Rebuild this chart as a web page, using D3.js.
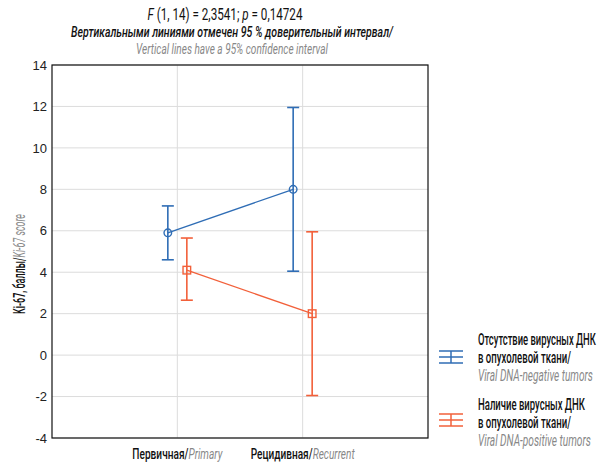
<!DOCTYPE html>
<html>
<head>
<meta charset="utf-8">
<script src="https://cdn.jsdelivr.net/npm/d3@7"></script>
<style>
  body { margin: 0; background: #fff; }
  svg { display: block; }
  .cond { font-family: Roboto, "Noto Sans", sans-serif; }
</style>
</head>
<body>
<script>
var width = 597;
var height = 462;
var margin = { left: 52, top: 65, right: 169, bottom: 24 };

var categories = ['Первичная', 'Рецидивная'];
var categoriesEn = ['Primary', 'Recurrent'];
var yTicks = [-4, -2, 0, 2, 4, 6, 8, 10, 12, 14];

// mean, lower and upper 95% CI per category
var negMean = [5.9, 8.0];
var negLow = [4.6, 4.05];
var negHigh = [7.2, 11.95];
var posMean = [4.1, 2.0];
var posLow = [2.65, -1.95];
var posHigh = [5.65, 5.95];

var blue = '#2f6db5';
var red = '#f2603a';

var svg = d3.select('body').append('svg')
  .attr('width', width)
  .attr('height', height);

// squeeze a text horizontally so it has the given width (condensed look)
function fit(sel, w, ax) {
  var n = sel.node().getComputedTextLength();
  var k = w / n;
  sel.attr('transform', 'translate(' + ax + ',0) scale(' + k + ',1) translate(' + (-ax) + ',0)');
}

var x = d3.scaleLinear().domain([0, 3]).range([margin.left, width - margin.right]);
var y = d3.scaleLinear().domain([-4, 14]).range([height - margin.bottom, margin.top]);

// grid
svg.selectAll('.hgrid').data(yTicks).enter().append('line')
  .attr('x1', x(0)).attr('x2', x(3))
  .attr('y1', function(d) { return y(d); }).attr('y2', function(d) { return y(d); })
  .attr('stroke', '#dcdcdc').attr('stroke-width', 1);
svg.selectAll('.vgrid').data(categories).enter().append('line')
  .attr('x1', function(d, i) { return x(i + 1); }).attr('x2', function(d, i) { return x(i + 1); })
  .attr('y1', y(14)).attr('y2', y(-4))
  .attr('stroke', '#dcdcdc').attr('stroke-width', 1);

// frame
svg.append('rect')
  .attr('x', x(0)).attr('y', y(14))
  .attr('width', x(3) - x(0)).attr('height', y(-4) - y(14))
  .attr('fill', 'none').attr('stroke', '#111').attr('stroke-width', 1.2);

// y axis labels
var yAxis = d3.axisLeft(y).tickValues(yTicks).tickSize(0).tickPadding(5)
  .tickFormat(function(d) { return String(d); });
var ga = svg.append('g').attr('transform', 'translate(' + x(0) + ',0)').call(yAxis);
ga.select('.domain').remove();
ga.selectAll('text')
  .attr('font-family', '"Liberation Sans", Arial, sans-serif')
  .attr('font-size', 13).attr('fill', '#222');

// x axis labels
var xWidths = [90, 104];
svg.selectAll('.xl').data(categories).enter().append('text')
  .attr('class', 'cond')
  .attr('x', function(d, i) { return x(i + 1); })
  .attr('y', 459)
  .attr('text-anchor', 'middle')
  .attr('font-size', 15.5)
  .each(function(d, i) {
    var t = d3.select(this);
    t.append('tspan').attr('fill', '#111').attr('font-weight', 500).text(d + '/');
    t.append('tspan').attr('fill', '#888').attr('font-style', 'italic').text(categoriesEn[i]);
    fit(t, xWidths[i], x(i + 1));
  });

// y title
var ytg = svg.append('g')
  .attr('transform', 'translate(25,264) rotate(-90)');
var yt = ytg.append('text').attr('class', 'cond')
  .attr('text-anchor', 'middle').attr('font-size', 16);
yt.append('tspan').attr('fill', '#111').attr('font-weight', 500).text('Ki-67, баллы/');
yt.append('tspan').attr('fill', '#888').attr('font-style', 'italic').text('Ki-67 score');
fit(yt, 100, 0);

// title
var t1 = svg.append('text').attr('class', 'cond').attr('x', 225).attr('y', 20)
  .attr('text-anchor', 'middle').attr('font-size', 16).attr('fill', '#111');
t1.append('tspan').attr('font-style', 'italic').text('F');
t1.append('tspan').text(' (1, 14) = 2,3541; ');
t1.append('tspan').attr('font-style', 'italic').text('p');
t1.append('tspan').text(' = 0,14724');
fit(t1, 155, 225);
var t2 = svg.append('text').attr('class', 'cond').attr('x', 232).attr('y', 37)
  .attr('text-anchor', 'middle').attr('font-size', 15.5).attr('font-style', 'italic')
  .attr('font-weight', 500).attr('fill', '#111')
  .text('Вертикальными линиями отмечен 95 % доверительный интервал/');
fit(t2, 322, 232);
var t3 = svg.append('text').attr('class', 'cond').attr('x', 232).attr('y', 54)
  .attr('text-anchor', 'middle').attr('font-size', 15.5).attr('font-style', 'italic')
  .attr('fill', '#888')
  .text('Vertical lines have a 95% confidence interval');
fit(t3, 192, 232);

// series
var series = [
  { mean: negMean, low: negLow, high: negHigh, color: blue, off: -9.5, shape: 'circle' },
  { mean: posMean, low: posLow, high: posHigh, color: red, off: 9.5, shape: 'square' }
];

series.forEach(function(s) {
  var g = svg.append('g');
  var px = function(i) { return x(i + 1) + s.off; };
  var line = d3.line().x(function(d, i) { return px(i); }).y(function(d) { return y(d); });
  g.append('path').datum(s.mean).attr('d', line)
    .attr('fill', 'none').attr('stroke', s.color).attr('stroke-width', 1.3);
  s.mean.forEach(function(m, i) {
    g.append('line').attr('x1', px(i)).attr('x2', px(i))
      .attr('y1', y(s.low[i])).attr('y2', y(s.high[i]))
      .attr('stroke', s.color).attr('stroke-width', 1.6);
    [s.low[i], s.high[i]].forEach(function(v) {
      g.append('line').attr('x1', px(i) - 6).attr('x2', px(i) + 6)
        .attr('y1', y(v)).attr('y2', y(v))
        .attr('stroke', s.color).attr('stroke-width', 1.6);
    });
    if (s.shape === 'circle') {
      g.append('circle').attr('cx', px(i)).attr('cy', y(m)).attr('r', 3.8)
        .attr('fill', 'none').attr('stroke', s.color).attr('stroke-width', 1.4);
    } else {
      g.append('rect').attr('x', px(i) - 3.8).attr('y', y(m) - 3.8)
        .attr('width', 7.6).attr('height', 7.6)
        .attr('fill', 'none').attr('stroke', s.color).attr('stroke-width', 1.4);
    }
  });
});

// legend
var legend = [
  { color: blue, y: 345, gy: 357, ru1: 'Отсутствие вирусных ДНК', ru2: 'в опухолевой ткани/', en: 'Viral DNA-negative tumors', w: [118, 93, 115] },
  { color: red, y: 410, gy: 420, ru1: 'Наличие вирусных ДНК', ru2: 'в опухолевой ткани/', en: 'Viral DNA-positive tumors', w: [107, 93, 113] }
];
legend.forEach(function(l) {
  var g = svg.append('g');
  [-6, 0, 6].forEach(function(dy) {
    g.append('line').attr('x1', 439).attr('x2', 463)
      .attr('y1', l.gy + dy).attr('y2', l.gy + dy)
      .attr('stroke', l.color).attr('stroke-width', 1.5);
  });
  g.append('line').attr('x1', 451).attr('x2', 451)
    .attr('y1', l.gy - 6).attr('y2', l.gy + 6)
    .attr('stroke', l.color).attr('stroke-width', 1.5);
  var a = g.append('text').attr('class', 'cond').attr('x', 478).attr('y', l.y)
    .attr('font-size', 16).attr('font-weight', 500).attr('fill', '#111').text(l.ru1);
  fit(a, l.w[0], 478);
  var b = g.append('text').attr('class', 'cond').attr('x', 478).attr('y', l.y + 18)
    .attr('font-size', 16).attr('font-weight', 500).attr('fill', '#111').text(l.ru2);
  fit(b, l.w[1], 478);
  var c = g.append('text').attr('class', 'cond').attr('x', 478).attr('y', l.y + 36)
    .attr('font-size', 16).attr('font-style', 'italic').attr('fill', '#888').text(l.en);
  fit(c, l.w[2], 478);
});
</script>
</body>
</html>
